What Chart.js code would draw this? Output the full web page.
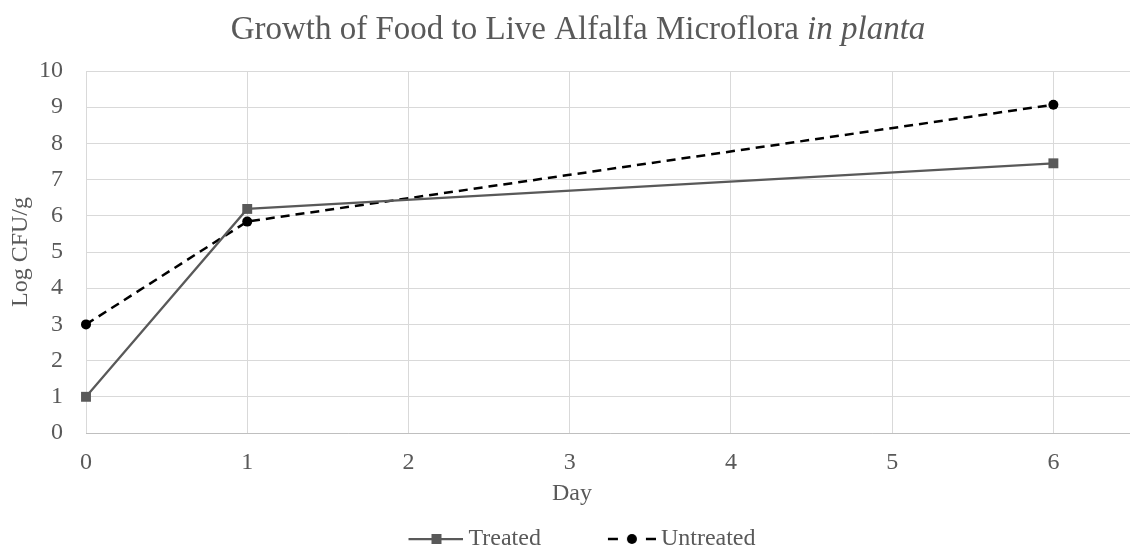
<!DOCTYPE html>
<html>
<head>
<meta charset="utf-8">
<title>Growth of Food to Live Alfalfa Microflora in planta</title>
<script src="https://cdn.jsdelivr.net/npm/chart.js@4.4.1/dist/chart.umd.min.js"></script>
<style>
  html, body { margin: 0; padding: 0; background: #ffffff; overflow: hidden; }
  #wrap { width: 1130px; height: 548px; position: relative; overflow: hidden; }
  #chart { display: block; }
</style>
</head>
<body>
<!-- the plot runs a few pixels past the right edge of the frame -->
<div id="wrap"><canvas id="chart" width="1134" height="548"></canvas></div>
<script>
// Sampling days and log counts for each treatment
const days = [0, 1, 6];
const treated = [1.0, 6.19, 7.45];
const untreated = [3.0, 5.84, 9.07];
const seriesNames = ['Treated', 'Untreated'];
const titleMain = 'Growth of Food to Live Alfalfa Microflora ';
const titleItalic = 'in planta';
const xTitle = 'Day';
const yTitle = 'Log CFU/g';

const FONT = '"Liberation Serif", "Times New Roman", serif';
const TEXT = '#595959';
const GRID = '#d9d9d9';
const LEGEND_BOX = 98;

// Legend icons: a short line segment with the series marker on it.
// The image is 14px wider than the legend box so the segment sits close to its label.
function legendIcon(kind) {
  const c = document.createElement('canvas');
  c.width = LEGEND_BOX + 14; c.height = 14;
  const g = c.getContext('2d');
  const y = 7;
  const end = c.width;
  if (kind === 0) {
    g.strokeStyle = '#595959';
    g.lineWidth = 2.25;
    g.beginPath(); g.moveTo(end - 55, y); g.lineTo(end, y); g.stroke();
    g.fillStyle = '#595959';
    g.fillRect(end - 32, y - 5, 10, 10);
  } else {
    g.strokeStyle = '#000000';
    g.lineWidth = 2.5;
    g.beginPath(); g.moveTo(end - 48, y); g.lineTo(end - 38, y); g.stroke();
    g.beginPath(); g.moveTo(end - 10, y); g.lineTo(end, y); g.stroke();
    g.fillStyle = '#000000';
    g.beginPath(); g.arc(end - 24, y, 5, 0, Math.PI * 2); g.fill();
  }
  return c;
}
const icons = [legendIcon(0), legendIcon(1)];

// Chart title (with an italic tail) and the x-axis caption, both centred on the frame
const captions = {
  id: 'captions',
  afterDraw(chart) {
    const ctx = chart.ctx;
    const size = 33;
    ctx.save();
    ctx.fillStyle = TEXT;
    ctx.textBaseline = 'middle';
    ctx.font = size + 'px ' + FONT;
    const w1 = ctx.measureText(titleMain).width;
    ctx.font = 'italic ' + size + 'px ' + FONT;
    const w2 = ctx.measureText(titleItalic).width;
    const x = 578 - (w1 + w2) / 2;
    ctx.font = size + 'px ' + FONT;
    ctx.fillText(titleMain, x, 30);
    ctx.font = 'italic ' + size + 'px ' + FONT;
    ctx.fillText(titleItalic, x + w1, 30);

    ctx.font = '24px ' + FONT;
    ctx.textAlign = 'center';
    ctx.fillText(xTitle, 572, 494);
    ctx.restore();
  }
};

new Chart(document.getElementById('chart'), {
  type: 'line',
  data: {
    datasets: [
      {
        label: seriesNames[0],
        data: days.map((d, i) => ({ x: d, y: treated[i] })),
        borderColor: '#595959',
        backgroundColor: '#595959',
        borderWidth: 2.25,
        pointStyle: 'rect',
        pointRadius: 7,
        pointBorderWidth: 0,
        pointBackgroundColor: '#595959',
        tension: 0,
        clip: false
      },
      {
        label: seriesNames[1],
        data: days.map((d, i) => ({ x: d, y: untreated[i] })),
        borderColor: '#000000',
        backgroundColor: '#000000',
        borderWidth: 2.5,
        borderDash: [9, 6],
        pointStyle: 'circle',
        pointRadius: 5,
        pointBorderWidth: 0,
        pointBackgroundColor: '#000000',
        tension: 0,
        clip: false
      }
    ]
  },
  options: {
    responsive: false,
    devicePixelRatio: 1,
    animation: false,
    layout: {
      autoPadding: false,
      padding: { top: 71, right: 0, left: -20, bottom: -13 }
    },
    plugins: {
      title: { display: false },
      tooltip: { enabled: false },
      legend: {
        position: 'bottom',
        labels: {
          usePointStyle: true,
          pointStyleWidth: LEGEND_BOX,
          boxHeight: 14,
          padding: 10,
          color: TEXT,
          font: { family: FONT, size: 24 },
          generateLabels(chart) {
            return chart.data.datasets.map((ds, i) => ({
              text: ds.label,
              pointStyle: icons[i],
              fillStyle: ds.borderColor,
              strokeStyle: ds.borderColor,
              lineWidth: 0,
              hidden: false,
              fontColor: TEXT,
              datasetIndex: i
            }));
          }
        }
      }
    },
    scales: {
      x: {
        type: 'linear',
        min: 0,
        max: 6.5,
        ticks: {
          stepSize: 1,
          includeBounds: false,
          color: TEXT,
          padding: 15,
          font: { family: FONT, size: 24 }
        },
        grid: { color: GRID, lineWidth: 1, drawTicks: false },
        border: { color: '#bfbfbf', width: 1 },
        title: { display: false },
        afterFit(scale) {
          scale.height = 84;
          scale.paddingRight = 0;
        }
      },
      y: {
        min: 0,
        max: 10,
        ticks: {
          stepSize: 1,
          color: TEXT,
          padding: 23,
          font: { family: FONT, size: 24 }
        },
        grid: { color: GRID, lineWidth: 1, drawTicks: false },
        border: { display: false },
        title: {
          display: true,
          text: yTitle,
          color: TEXT,
          font: { family: FONT, size: 24 },
          padding: { top: 26, bottom: 4 }
        },
        afterFit(scale) { scale.width = 106; }
      }
    }
  },
  plugins: [captions]
});
</script>
</body>
</html>
